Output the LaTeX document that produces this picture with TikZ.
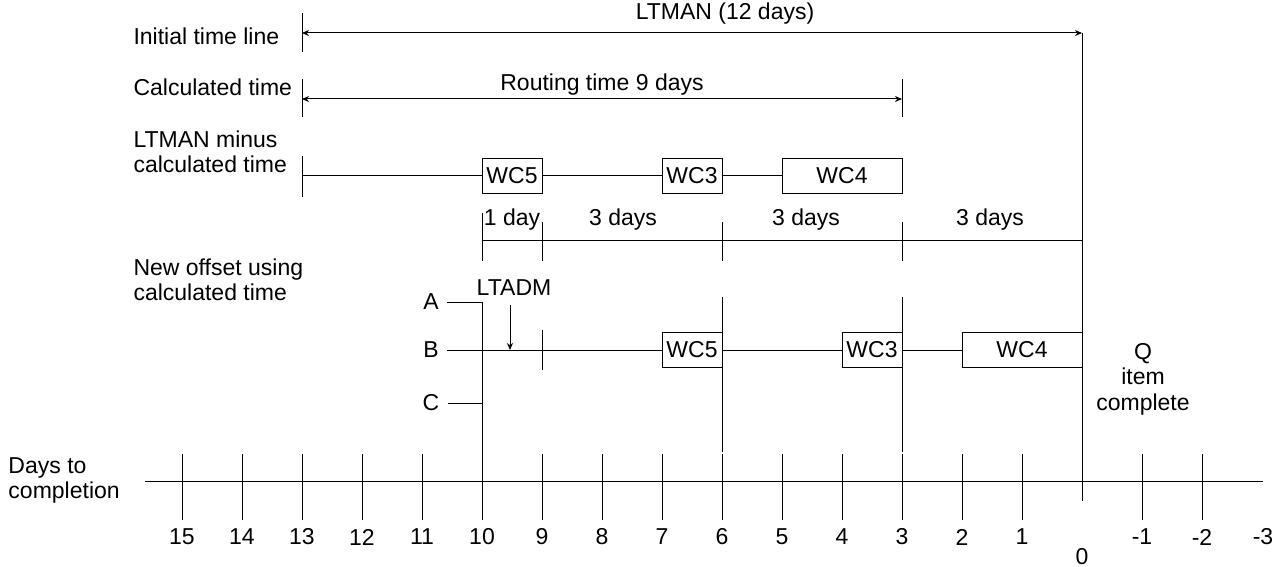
\documentclass[tikz,border=0pt]{standalone}
\usepackage{fontspec}
\setmainfont{Liberation Sans}
\usetikzlibrary{arrows.meta}

\tikzset{
  lbl/.style={font=\fontsize{11.5}{12.5}\selectfont, inner sep=0pt},
  rowlbl/.style={lbl, anchor=west, align=left},
  letlbl/.style={lbl, inner sep=4pt},
  wcbox/.style={draw, lbl, minimum width=30pt, minimum height=17.5pt},
}

\begin{document}
\begin{tikzpicture}[x=0.5pt,y=-0.5pt,line width=0.5pt,>={Stealth[length=3.5pt,width=3pt]}]
  \useasboundingbox (0,0) rectangle (1275,567);

  % row labels
  \node[rowlbl] (initlbl) at (133,36) {Initial time line};
  \node[rowlbl] (calclbl) at (133,87) {Calculated time};
  \node[rowlbl] (minuslbl) at (133,152) {LTMAN minus\\calculated time};
  \node[rowlbl] (offsetlbl) at (133,280) {New offset using\\calculated time};
  \node[rowlbl] (dayslbl) at (8,480) {Days to\\completion};

  % days axis
  \coordinate (axL) at (145,481);
  \coordinate (axR) at (1263,481);
  \draw (axL) -- (axR);
  \foreach \d in {15,14,...,1,-1,-2} {
    \draw ({1082-60*\d},454) -- ({1082-60*\d},520);
    \node[lbl] (day\d) at ({1082-60*\d},537) {\d};
  }
  \node[lbl] (day0) at (1082,557) {0};
  \node[lbl] (day-3) at (1263,537) {-3};

  % completion line
  \coordinate (zeroTop) at (1082,33);
  \coordinate (zeroBot) at (1082,501);
  \draw (zeroTop) -- (zeroBot);

  % initial time line
  \coordinate (initL) at (302,33);
  \draw (302,13) -- (302,52);
  \draw[<->] (initL) -- (zeroTop);
  \node[lbl] (ltman) at (725,14) {LTMAN (12 days)};

  % calculated time
  \coordinate (calcL) at (302,99);
  \coordinate (calcR) at (902,99);
  \draw (302,79) -- (302,117);
  \draw (902,79) -- (902,117);
  \draw[<->] (calcL) -- (calcR);
  \node[lbl] (routing) at (602,85) {Routing time 9 days};

  % LTMAN minus calculated time
  \draw (302,156) -- (302,197);
  \coordinate (minusL) at (302,176);
  \node[wcbox] (wc5a) at (512,176) {WC5};
  \node[wcbox] (wc3a) at (692,176) {WC3};
  \node[wcbox,minimum width=60pt] (wc4a) at (842,176) {WC4};
  \draw (minusL) -- (wc5a) -- (wc3a) -- (wc4a);

  % offsets in days
  \coordinate (offL) at (482,240);
  \coordinate (offR) at (1082,240);
  \draw (offL) -- (offR);
  \draw (482,213) -- (482,261);
  \draw (542,222) -- (542,261);
  \draw (722,222) -- (722,261);
  \draw (902,222) -- (902,261);
  \node[lbl] (oneday) at (512,220) {1 day};
  \node[lbl] (threea) at (623,220) {3 days};
  \node[lbl] (threeb) at (806,220) {3 days};
  \node[lbl] (threec) at (990,220) {3 days};

  % new offset
  \node[letlbl] (labA) at (431,302) {A};
  \node[letlbl] (labB) at (431,350) {B};
  \node[letlbl] (labC) at (431,403) {C};
  \coordinate (aEnd) at (482,302);
  \coordinate (cEnd) at (482,403);
  \draw (labA) -- (aEnd) -- (482,520);
  \draw (labC) -- (cEnd);
  \node[wcbox] (wc5b) at (692,350) {WC5};
  \node[wcbox] (wc3b) at (872,350) {WC3};
  \node[wcbox,minimum width=60pt] (wc4b) at (1022,350) {WC4};
  \draw (labB) -- (wc5b) -- (wc3b) -- (wc4b);
  \draw (542,330) -- (542,370);
  \draw (722,297) -- (722,452);
  \draw (902,297) -- (902,452);
  \node[lbl] (ltadm) at (514,288) {LTADM};
  \coordinate (ltadmTop) at (510,305);
  \coordinate (ltadmEnd) at (510,350);
  \draw[->] (ltadmTop) -- (ltadmEnd);

  \node[lbl,align=center,font=\fontsize{11.5}{12.8}\selectfont] (qitem) at (1143,379) {Q\\item\\complete};
\end{tikzpicture}
\end{document}
